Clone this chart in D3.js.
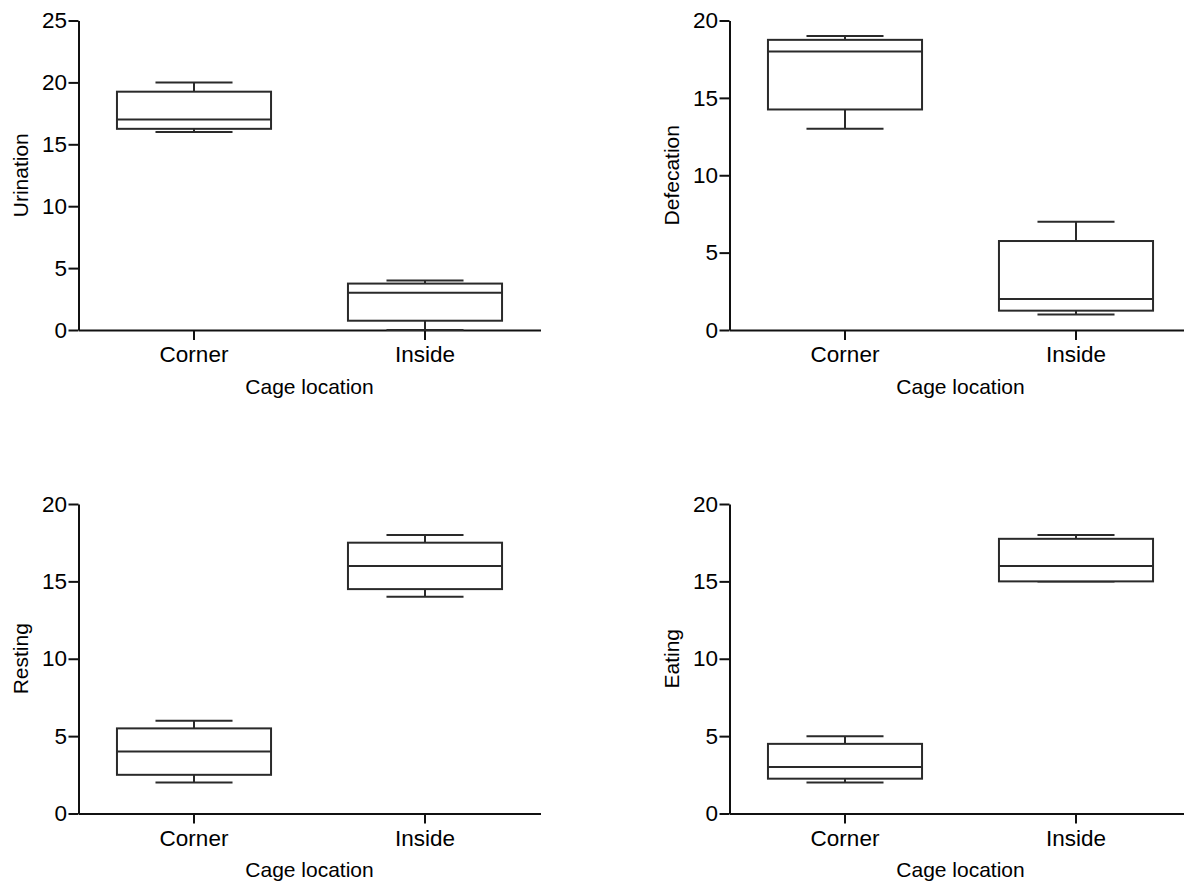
<!DOCTYPE html>
<html>
<head>
<meta charset="utf-8">
<script src="https://cdn.jsdelivr.net/npm/d3@7"></script>
<style>
  html, body { margin: 0; padding: 0; background: #fff; }
  svg { display: block; }
  text { font-family: "Liberation Sans", Arial, sans-serif; fill: #000; }
</style>
</head>
<body>
<svg id="chart" width="1184" height="881"></svg>
<script>
// ---- data ----
const categories = ["Corner", "Inside"];
const xTitle = "Cage location";
const yTitles = ["Urination", "Defecation", "Resting", "Eating"];
const yMaxes = [25, 20, 20, 20];
const yTicks = [[0, 5, 10, 15, 20, 25], [0, 5, 10, 15, 20], [0, 5, 10, 15, 20], [0, 5, 10, 15, 20]];
// five-number summaries per category: [min, q1, median, q3, max]
const urination  = [[16, 16.25, 17, 19.25, 20], [0, 0.75, 3, 3.75, 4]];
const defecation = [[13, 14.25, 18, 18.75, 19], [1, 1.25, 2, 5.75, 7]];
const resting    = [[2, 2.5, 4, 5.5, 6], [14, 14.5, 16, 17.5, 18]];
const eating     = [[2, 2.25, 3, 4.5, 5], [15, 15, 16, 17.75, 18]];
const panelsData = [urination, defecation, resting, eating];

// ---- layout ----
const svg = d3.select("#chart");
const layout = [
  { x0: 78.5,  top: 20.5, bottom: 330 },
  { x0: 729.5, top: 20.5, bottom: 330 },
  { x0: 78.5,  top: 504,  bottom: 813.5 },
  { x0: 729.5, top: 504,  bottom: 813.5 }
];
const axisLen = 462;
const axisStroke = "#111", boxStroke = "#2a2a2a", sw = 2;
const tickFont = 22.5, titleFont = 21;

panelsData.forEach((data, i) => {
  const L = layout[i];
  const g = svg.append("g");
  const x = d3.scaleBand().domain(categories).range([L.x0, L.x0 + axisLen]).padding(0);
  const y = d3.scaleLinear().domain([0, yMaxes[i]]).range([L.bottom, L.top]);
  const bw = x.bandwidth() * 0.667;
  const cw = bw / 2;

  // y axis
  const ya = g.append("g").attr("transform", `translate(${L.x0},0)`)
    .call(d3.axisLeft(y).tickValues(yTicks[i]).tickSize(10).tickSizeOuter(0).tickPadding(1.5).tickFormat(d3.format("d")));
  ya.select(".domain").attr("stroke", axisStroke).attr("stroke-width", sw);
  ya.selectAll(".tick line").attr("stroke", axisStroke).attr("stroke-width", sw);
  ya.selectAll(".tick text").attr("font-size", tickFont).attr("font-family", "Liberation Sans, Arial, sans-serif").attr("fill", "#000");

  // x axis
  const xa = g.append("g").attr("transform", `translate(0,${L.bottom})`)
    .call(d3.axisBottom(x).tickSize(10).tickSizeOuter(0).tickPadding(6.5));
  xa.select(".domain").attr("stroke", axisStroke).attr("stroke-width", sw);
  xa.selectAll(".tick line").attr("stroke", axisStroke).attr("stroke-width", sw);
  xa.selectAll(".tick text").attr("font-size", tickFont).attr("font-family", "Liberation Sans, Arial, sans-serif").attr("fill", "#000");

  // titles
  g.append("text")
    .attr("x", L.x0 + axisLen / 2)
    .attr("y", L.bottom + 63.5)
    .attr("text-anchor", "middle")
    .attr("font-size", titleFont)
    .text(xTitle);
  g.append("text")
    .attr("transform", `translate(${L.x0 - 51},${(L.top + L.bottom) / 2}) rotate(-90)`)
    .attr("text-anchor", "middle")
    .attr("font-size", titleFont)
    .text(yTitles[i]);

  // boxes
  data.forEach((s, j) => {
    const cx = x(categories[j]) + x.bandwidth() / 2;
    const [mn, q1, md, q3, mx] = s;
    const bg = g.append("g").attr("fill", "none").attr("stroke", boxStroke).attr("stroke-width", sw);
    bg.append("line").attr("x1", cx).attr("x2", cx).attr("y1", y(q3)).attr("y2", y(mx));
    bg.append("line").attr("x1", cx).attr("x2", cx).attr("y1", y(q1)).attr("y2", y(mn));
    bg.append("line").attr("x1", cx - cw / 2).attr("x2", cx + cw / 2).attr("y1", y(mx)).attr("y2", y(mx));
    bg.append("line").attr("x1", cx - cw / 2).attr("x2", cx + cw / 2).attr("y1", y(mn)).attr("y2", y(mn));
    bg.append("rect").attr("x", cx - bw / 2).attr("width", bw)
      .attr("y", y(q3)).attr("height", y(q1) - y(q3)).attr("fill", "#fff");
    bg.append("line").attr("x1", cx - bw / 2).attr("x2", cx + bw / 2).attr("y1", y(md)).attr("y2", y(md));
  });
});
</script>
</body>
</html>
